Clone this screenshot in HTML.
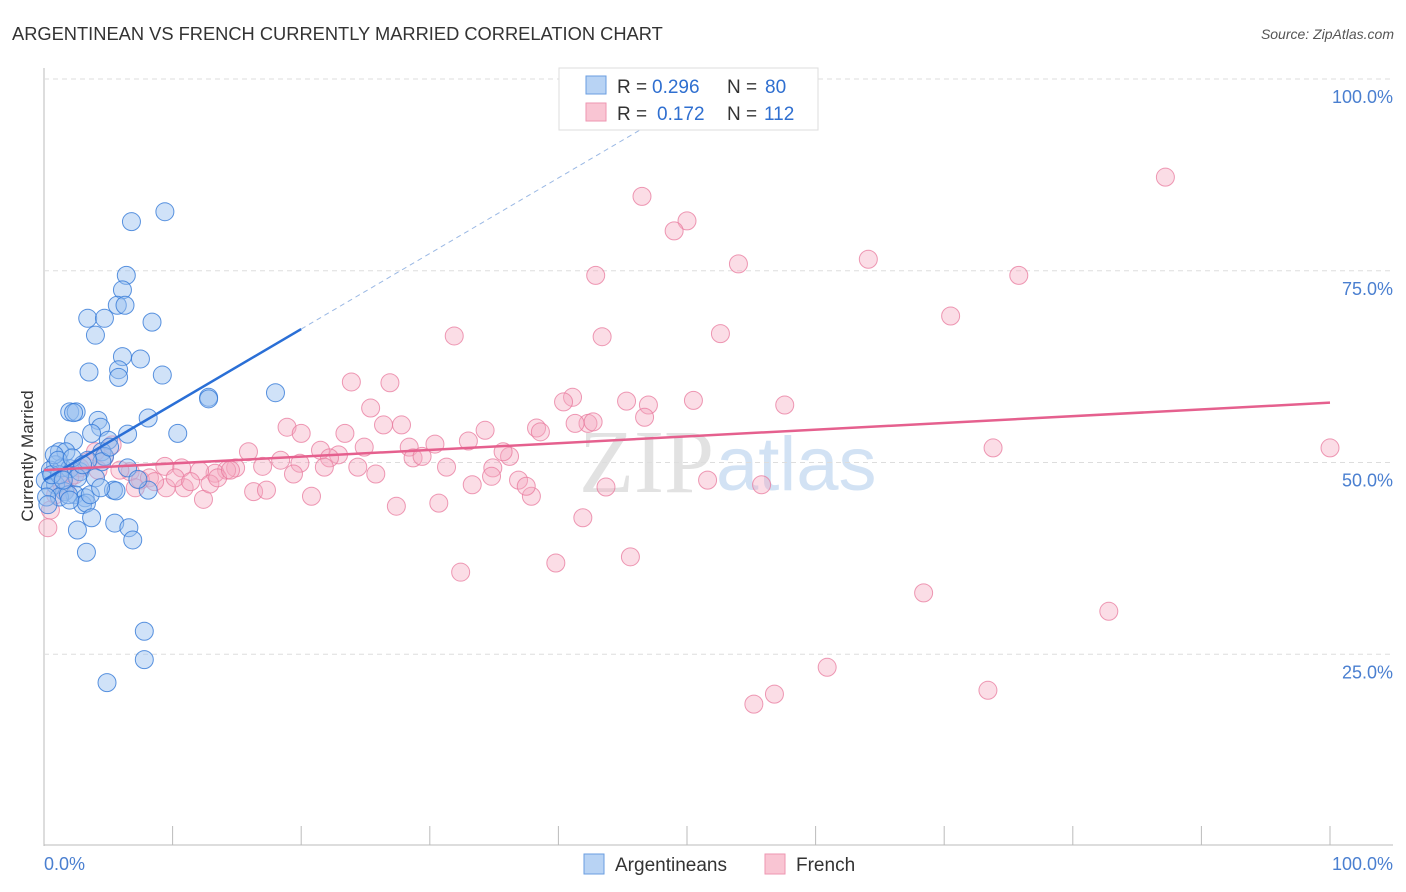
<!DOCTYPE html>
<html><head><meta charset="utf-8"><style>
body{margin:0;background:#fff;font-family:"Liberation Sans",sans-serif}
svg{display:block}
</style></head><body>
<svg width="1406" height="892" id="c">
<text x="12" y="40" font-size="18.3" fill="#333">ARGENTINEAN VS FRENCH CURRENTLY MARRIED CORRELATION CHART</text>
<text x="1394" y="39" font-size="14" fill="#555" font-style="italic" text-anchor="end">Source: ZipAtlas.com</text>
<text x="33" y="456" font-size="17" fill="#333" text-anchor="middle" transform="rotate(-90 33 456)">Currently Married</text>
<text x="714" y="492" font-size="90" fill="#e2e2e2" text-anchor="end" font-family="Liberation Serif">ZIP</text>
<text x="716" y="490" font-size="76" fill="#d2e2f4">atlas</text>
<g id="grid"></g><g id="pts"></g><g id="lines"></g>
<g>
<rect x="559" y="68" width="259" height="62" fill="#fff" stroke="#ddd"/>
<rect x="586" y="76" width="20" height="18" fill="#b8d3f4" stroke="#6a9ee0"/>
<rect x="586" y="103" width="20" height="18" fill="#f9c5d3" stroke="#ee96b2"/>
<text x="617" y="93" font-size="19" fill="#333">R =</text>
<text x="652" y="93" font-size="19" fill="#2f6fd0">0.296</text>
<text x="727" y="93" font-size="19" fill="#333">N =</text>
<text x="765" y="93" font-size="19" fill="#2f6fd0">80</text>
<text x="617" y="120" font-size="19" fill="#333">R =</text>
<text x="657" y="120" font-size="19" fill="#2f6fd0">0.172</text>
<text x="727" y="120" font-size="19" fill="#333">N =</text>
<text x="764" y="120" font-size="19" fill="#2f6fd0">112</text>
</g>
<g>
<rect x="584" y="854" width="20" height="20" fill="#b8d3f4" stroke="#6a9ee0"/>
<text x="615" y="871" font-size="19" fill="#333">Argentineans</text>
<rect x="765" y="854" width="20" height="20" fill="#f9c5d3" stroke="#ee96b2"/>
<text x="796" y="871" font-size="19" fill="#333">French</text>
</g>
<text x="44" y="870" font-size="18" fill="#4a7fd0">0.0%</text>
<text x="1393" y="870" font-size="18" fill="#4a7fd0" text-anchor="end">100.0%</text>
</svg>
<script>
const blueX=[9.4,6.8,6.4,6.1,5.7,6.3,3.4,4.7,8.4,4.0,6.1,7.5,3.5,5.8,5.8,9.2,12.8,12.8,18.0,8.1,10.4,4.2,2.0,2.5,2.3,4.4,6.5,3.7,5.0,2.3,1.2,1.7,4.5,4.7,4.5,5.1,0.9,1.4,0.5,2.0,2.8,0.1,0.9,1.6,2.4,3.2,4.0,2.6,0.5,1.2,1.9,3.0,3.3,5.4,5.6,8.1,6.5,7.3,3.7,5.5,6.6,6.9,2.6,3.3,7.8,7.8,4.9,0.8,0.2,0.3,3.6,2.0,1.2,4.4,0.6,1.5,1.1,3.4,2.2,3.0];
const blueY=[82.7,81.4,74.4,72.5,70.5,70.5,68.8,68.8,68.3,66.6,63.8,63.5,61.8,62.1,61.1,61.4,58.5,58.3,59.1,55.8,53.8,55.5,56.6,56.6,56.5,54.6,53.7,53.8,52.9,52.8,51.4,51.4,51.4,50.8,50.1,52.0,49.7,49.3,49.0,49.2,48.8,47.7,47.1,46.2,45.8,45.4,48.0,48.0,46.7,45.5,45.8,44.5,44.7,46.4,46.3,46.4,49.3,47.8,42.8,42.1,41.5,39.9,41.2,38.3,28.0,24.3,21.3,51.0,45.5,44.5,45.8,45.1,48.4,46.7,48.4,47.7,50.3,50.3,50.6,49.7];
const pinkX=[87.2,46.5,50.0,49.0,54.0,64.1,75.8,42.9,70.5,31.9,43.4,52.6,23.9,26.9,41.1,40.4,45.3,47.0,50.5,57.6,25.4,27.8,26.4,18.9,20.0,23.4,34.3,36.2,38.3,38.6,42.3,41.3,46.7,33.0,30.4,28.4,15.9,21.5,22.9,24.9,28.7,29.4,35.7,42.7,73.8,100.0,34.9,31.3,24.4,22.2,21.8,19.9,18.4,17.0,14.9,14.2,13.3,12.1,10.7,9.4,9.5,10.9,12.4,12.9,13.5,16.3,17.3,19.4,20.8,25.8,27.4,30.7,33.3,34.8,36.9,37.9,37.5,41.9,43.7,51.6,55.8,32.4,39.8,45.6,68.4,82.8,60.9,73.4,56.8,55.2,6.7,7.5,5.9,4.7,4.0,3.4,2.8,2.4,2.0,1.4,0.9,0.5,0.3,5.3,4.2,8.2,10.2,11.4,14.5,8.6,7.1,1.7];
const pinkY=[87.2,84.7,81.5,80.2,75.9,76.5,74.4,74.4,69.1,66.5,66.4,66.8,60.5,60.4,58.5,57.9,58.0,57.5,58.1,57.5,57.1,54.9,54.9,54.6,53.8,53.8,54.2,50.8,54.5,54.0,55.1,55.1,55.9,52.8,52.4,52.0,51.4,51.6,51.0,52.0,50.6,50.8,51.4,55.3,51.9,51.9,49.3,49.4,49.4,50.6,49.4,49.9,50.3,49.5,49.3,49.0,48.6,48.9,49.3,49.5,46.7,46.7,45.2,47.2,48.0,46.2,46.4,48.5,45.6,48.5,44.3,44.7,47.1,48.2,47.7,45.6,46.9,42.8,46.8,47.7,47.1,35.7,36.9,37.7,33.0,30.6,23.3,20.3,19.8,18.5,48.8,47.7,49.0,50.7,51.4,50.1,49.3,48.4,48.0,47.1,45.8,43.8,41.5,52.3,49.0,48.0,48.0,47.5,49.0,47.5,46.7,46.4];
const yTicks=[25,50,75,100];
const blueTrend=[47.7,0.985];
const pinkTrend=[49.0,0.088];
const NS='http://www.w3.org/2000/svg';
const sx=v=>44+v*12.86, sy=v=>846-v*7.67;
function mk(tag,at,parent){const e=document.createElementNS(NS,tag);for(const k in at)e.setAttribute(k,at[k]);parent.appendChild(e);return e;}
const grid=document.getElementById('grid');
mk('line',{x1:44,y1:68,x2:44,y2:846,stroke:'#bbb'},grid);
mk('line',{x1:44,y1:845,x2:1393,y2:845,stroke:'#bbb'},grid);
for(let k=0;k<=10;k++){const l=mk('line',{x1:sx(k*10),y1:826,x2:sx(k*10),y2:845,stroke:'#bbb'},grid);

}
yTicks.forEach(t=>{const l=mk('line',{x1:44,y1:sy(t),x2:1393,y2:sy(t),stroke:'#ddd','stroke-dasharray':'5,4'},grid);


const tx=mk('text',{x:1393,y:sy(t)+24,'font-size':18,fill:'#4a7fd0','text-anchor':'end'},grid);tx.textContent=t.toFixed(1)+'%';

});
const pts=document.getElementById('pts');
pinkX.forEach((x,i)=>{const c=mk('circle',{cx:sx(x),cy:sy(pinkY[i]),r:9,fill:'rgba(245,170,192,0.4)',stroke:'rgba(232,120,156,0.75)','stroke-width':1},pts);

});
blueX.forEach((x,i)=>{const c=mk('circle',{cx:sx(x),cy:sy(blueY[i]),r:9,fill:'rgba(150,190,240,0.45)',stroke:'rgba(50,120,215,0.8)','stroke-width':1},pts);

});
const lines=document.getElementById('lines');
const b1=mk('line',{x1:sx(0),y1:sy(blueTrend[0]),x2:sx(20),y2:sy(blueTrend[0]+20*blueTrend[1]),stroke:'#2a6fd6','stroke-width':2.5},lines);


const b2=mk('line',{x1:sx(20),y1:sy(blueTrend[0]+20*blueTrend[1]),x2:sx(48),y2:sy(blueTrend[0]+48*blueTrend[1]),stroke:'#9ab8e4','stroke-width':1,'stroke-dasharray':'5,4'},lines);


const p1=mk('line',{x1:sx(0),y1:sy(pinkTrend[0]),x2:sx(100),y2:sy(pinkTrend[0]+100*pinkTrend[1]),stroke:'#e5608e','stroke-width':2.5},lines);


</script>
</body></html>
